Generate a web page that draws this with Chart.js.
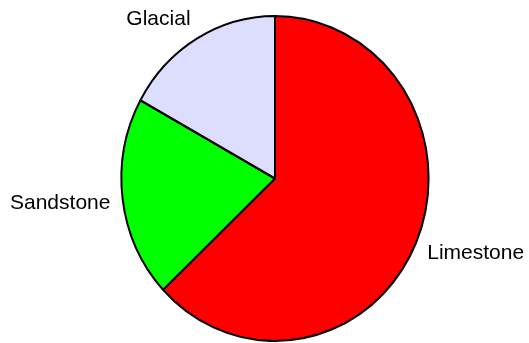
<!DOCTYPE html>
<html>
<head>
<meta charset="utf-8">
<script src="https://cdn.jsdelivr.net/npm/chart.js@4"></script>
<style>
  html, body { margin: 0; padding: 0; background: #fff; }
  #wrap { width: 529px; height: 343px; }
</style>
</head>
<body>
<div id="wrap"><canvas id="chart"></canvas></div>
<script>
const rockTypes = ["Limestone", "Sandstone", "Glacial"];
const shares = [63, 20, 17];
const sliceColors = ["#ff0000", "#00ff00", "#ddddff"];

// pie is a little taller than it is wide
const stretchY = 1.058;

const stretchPlugin = {
  id: "stretch",
  beforeDatasetsDraw(chart) {
    const arc = chart.getDatasetMeta(0).data[0];
    const ctx = chart.ctx;
    ctx.save();
    ctx.translate(arc.x, arc.y);
    ctx.scale(1, stretchY);
    ctx.translate(-arc.x, -arc.y);
  },
  afterDatasetsDraw(chart) {
    chart.ctx.restore();
  },
};

// category names outside each slice
const outerLabels = {
  id: "outerLabels",
  afterDraw(chart) {
    const ctx = chart.ctx;
    const arcs = chart.getDatasetMeta(0).data;
    ctx.save();
    ctx.font = '21px "Liberation Sans", Arial, sans-serif';
    ctx.fillStyle = "#000";
    ctx.textBaseline = "middle";
    arcs.forEach((arc, i) => {
      const mid = (arc.startAngle + arc.endAngle) / 2;
      const cx = Math.cos(mid), cy = Math.sin(mid);
      const x = arc.x + cx * arc.outerRadius * 1.08;
      const y = arc.y + cy * arc.outerRadius * stretchY * 1.1 + cy * 8 + 1;
      ctx.textAlign = cx < 0 ? "right" : "left";
      ctx.fillText(chart.data.labels[i], x, y);
    });
    ctx.restore();
  },
};

new Chart(document.getElementById("chart"), {
  type: "pie",
  data: {
    labels: rockTypes,
    datasets: [
      {
        data: shares,
        backgroundColor: sliceColors,
        borderColor: "#000",
        borderWidth: 2,
        hoverOffset: 0,
      },
    ],
  },
  options: {
    responsive: true,
    maintainAspectRatio: false,
    animation: false,
    radius: 153.6,
    layout: { padding: { left: 21, right: 0, top: 14, bottom: 0 } },
    plugins: {
      legend: { display: false },
      tooltip: { enabled: false },
    },
  },
  plugins: [stretchPlugin, outerLabels],
});
</script>
</body>
</html>
